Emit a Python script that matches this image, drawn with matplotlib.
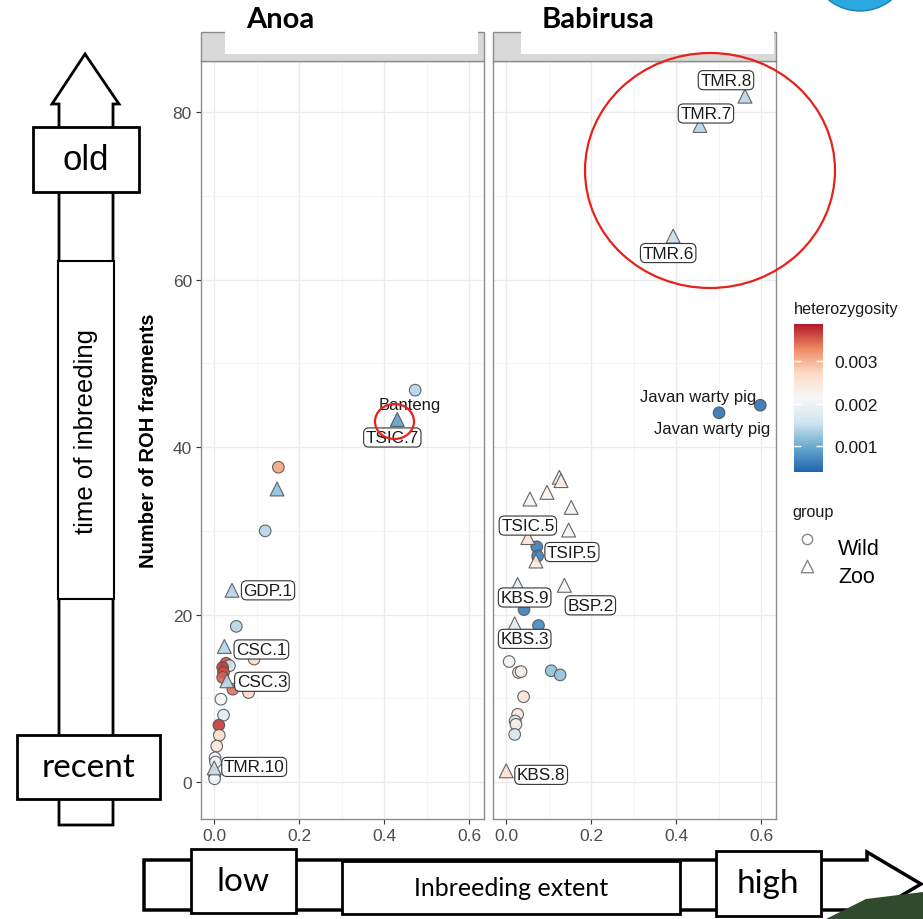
import numpy as np
import matplotlib.pyplot as plt
from matplotlib.colors import LinearSegmentedColormap, Normalize
from matplotlib.cm import ScalarMappable
from matplotlib.patches import Rectangle, Polygon, Ellipse, Circle

plt.rcParams['font.family'] = ['Liberation Sans', 'DejaVu Sans']

# ---- data ----
anoa_x = [0.473, 0.431, 0.151, 0.148, 0.120, 0.042, 0.052, 0.024, 0.094, 0.028,
          0.036, 0.020, 0.022, 0.020, 0.030, 0.044, 0.081, 0.016, 0.022, 0.011,
          0.012, 0.006, 0.002, 0.003, 0.000, 0.001, 0.001]
anoa_y = [46.8, 43.3, 37.6, 35.0, 30.0, 22.9, 18.6, 16.2, 14.7, 14.2,
          13.9, 13.7, 13.1, 12.5, 12.1, 11.1, 10.7, 9.9, 8.0, 6.8,
          5.6, 4.3, 2.9, 2.4, 1.7, 0.8, 0.4]
anoa_het = [0.0014, 0.0009, 0.0031, 0.0012, 0.0014, 0.0014, 0.0014, 0.0014, 0.0027, 0.0036,
            0.0016, 0.0037, 0.0036, 0.0035, 0.0014, 0.0034, 0.0027, 0.0021, 0.0018, 0.0037,
            0.0027, 0.0025, 0.0021, 0.0021, 0.0015, 0.0023, 0.0021]
anoa_group = ['Wild', 'Zoo', 'Wild', 'Zoo', 'Wild', 'Zoo', 'Wild', 'Zoo', 'Wild', 'Wild',
              'Wild', 'Wild', 'Wild', 'Wild', 'Zoo', 'Wild', 'Wild', 'Wild', 'Wild', 'Wild',
              'Wild', 'Wild', 'Wild', 'Wild', 'Zoo', 'Wild', 'Wild']
anoa_labels = {0: 'Banteng', 1: 'TSIC.7', 5: 'GDP.1', 7: 'CSC.1', 14: 'CSC.3', 24: 'TMR.10'}

babi_x = [0.562, 0.456, 0.393, 0.501, 0.598, 0.125, 0.129, 0.096, 0.056, 0.153,
          0.147, 0.051, 0.072, 0.074, 0.070, 0.027, 0.137, 0.042, 0.020, 0.076,
          0.007, 0.029, 0.035, 0.106, 0.127, 0.041, 0.027, 0.021, 0.023, 0.020, 0.000]
babi_y = [81.9, 78.4, 65.2, 44.1, 45.0, 36.4, 36.0, 34.6, 33.8, 32.8,
          30.1, 29.2, 28.1, 27.0, 26.4, 23.6, 23.5, 20.6, 18.9, 18.7,
          14.4, 13.1, 13.2, 13.3, 12.8, 10.2, 8.1, 7.3, 6.9, 5.7, 1.35]
babi_het = [0.0014, 0.0014, 0.0015, 0.0005, 0.0005, 0.0024, 0.0023, 0.0022, 0.0022, 0.0022,
            0.0021, 0.0025, 0.0006, 0.0006, 0.0024, 0.0018, 0.0021, 0.0006, 0.0018, 0.0007,
            0.0020, 0.0021, 0.0023, 0.0012, 0.0012, 0.0025, 0.0024, 0.0017, 0.0023, 0.0016, 0.0026]
babi_group = ['Zoo', 'Zoo', 'Zoo', 'Wild', 'Wild', 'Zoo', 'Zoo', 'Zoo', 'Zoo', 'Zoo',
              'Zoo', 'Zoo', 'Wild', 'Wild', 'Zoo', 'Zoo', 'Zoo', 'Wild', 'Zoo', 'Wild',
              'Wild', 'Wild', 'Wild', 'Wild', 'Wild', 'Wild', 'Wild', 'Wild', 'Wild', 'Wild', 'Zoo']
babi_labels = {0: 'TMR.8', 1: 'TMR.7', 2: 'TMR.6', 3: 'Javan warty pig', 4: 'Javan warty pig',
               11: 'TSIC.5', 14: 'TSIP.5', 15: 'KBS.9', 16: 'BSP.2', 18: 'KBS.3', 30: 'KBS.8'}

het_ticks = [0.001, 0.002, 0.003]
het_lim = (0.00039, 0.00387)

# ---- layout (pixels) ----
W, H = 923, 920
anoa_offsets = {0: (-5, -14), 1: (-5, -18), 5: (36, 0), 7: (37, -3), 14: (35, -1), 24: (40, 1)}
babi_offsets = {0: (-19, 16), 1: (6, 12), 2: (-5, -17), 3: (-7, -16), 4: (-62, 9),
                11: (0, 12), 14: (36, 9), 15: (7, -13), 16: (26, -20), 18: (10, -15), 30: (35, -4)}

cmap = LinearSegmentedColormap.from_list(
    'rdbu', ['#2166AC', '#67A9CF', '#D1E5F0', '#F7F7F7', '#FDDBC7', '#EF8A62', '#B2182B'])
norm = Normalize(*het_lim)


def frac(x0, y0, x1, y1):
    return [x0 / W, 1 - y1 / H, (x1 - x0) / W, (y1 - y0) / H]


fig = plt.figure(figsize=(W / 100, H / 100), dpi=100)


def panel(rect, xs, ys, het, group, labels, offsets, show_y):
    ax = fig.add_axes(frac(*rect))
    ax.set_xlim(-0.031, 0.635)
    ax.set_ylim(-4.4, 86.1)
    ax.set_xticks([0, 0.2, 0.4, 0.6])
    ax.set_xticklabels(['0.0', '0.2', '0.4', '0.6'])
    ax.set_xticks([0.1, 0.3, 0.5], minor=True)
    ax.set_yticks([0, 20, 40, 60, 80])
    ax.set_yticks([10, 30, 50, 70], minor=True)
    ax.grid(which='major', color='#EBEBEB', lw=1.0)
    ax.grid(which='minor', color='#F4F4F4', lw=0.6)
    ax.set_axisbelow(True)
    for s in ax.spines.values():
        s.set_color('#8C8C8C')
        s.set_linewidth(1.0)
    ax.tick_params(which='major', length=3.5, color='#333333', labelcolor='#4D4D4D',
                   labelsize=12.5, pad=3)
    ax.tick_params(which='minor', length=0)
    if not show_y:
        ax.tick_params(axis='y', left=False, labelleft=False)

    xs, ys, het = np.array(xs), np.array(ys), np.array(het)
    for g, mk, sz in [('Wild', 'o', 70), ('Zoo', '^', 100)]:
        m = np.array([gg == g for gg in group])
        ax.scatter(xs[m], ys[m], c=het[m], cmap=cmap, norm=norm, marker=mk, s=sz,
                   edgecolors='#555555', linewidths=0.8, alpha=0.9, zorder=3)

    for i, txt in labels.items():
        dx, dy = offsets[i]
        if group[i] == 'Zoo':
            ax.annotate(txt, (xs[i], ys[i]), xytext=(dx, dy), textcoords='offset pixels',
                        ha='center', va='center', fontsize=12.3, color='#1A1A1A', zorder=5,
                        bbox=dict(boxstyle='round,pad=0.12,rounding_size=0.3', fc='white',
                                  ec='#333333', lw=0.8))
        else:
            ax.annotate(txt, (xs[i], ys[i]), xytext=(dx, dy), textcoords='offset pixels',
                        ha='center', va='center', fontsize=12, color='#1A1A1A', zorder=5)
    return ax


ax1 = panel((201, 62, 484, 820), anoa_x, anoa_y, anoa_het, anoa_group,
            anoa_labels, anoa_offsets, True)
ax2 = panel((493, 62, 776, 820), babi_x, babi_y, babi_het, babi_group,
            babi_labels, babi_offsets, False)
fig.text(148 / W, 1 - 441 / H, 'Number of ROH fragments', rotation=90, ha='center',
         va='center', fontsize=14.5, fontweight='bold', color='black')

# colour bar legend
cax = fig.add_axes(frac(794, 325, 823, 473))
cb = fig.colorbar(ScalarMappable(norm=norm, cmap=cmap), cax=cax, ticks=het_ticks)
cb.outline.set_visible(False)
cb.ax.set_yticklabels([f'{t:.3f}' for t in het_ticks])
cax.tick_params(length=5, width=1, color='white', direction='in', labelsize=12.5,
                left=True, right=True, pad=8, labelcolor='#1A1A1A')

# ---- overlay: slide decoration ----
ov = fig.add_axes([0, 0, 1, 1], facecolor='none', zorder=10)
ov.set_xlim(0, W)
ov.set_ylim(H, 0)
ov.axis('off')

for x0, x1, wx0, wx1 in [(201, 484, 225, 478), (493, 776, 521, 774)]:
    ov.add_patch(Rectangle((x0, 33), x1 - x0, 29, fc='#D9D9D9', ec='#8C8C8C', lw=1))
    ov.add_patch(Rectangle((wx0, 0), wx1 - wx0, 55, fc='white', ec='none'))
ov.text(280, 20, 'Anoa', ha='center', va='center', fontsize=21, fontweight='bold', family='Lato')
ov.text(598, 20, 'Babirusa', ha='center', va='center', fontsize=21, fontweight='bold', family='Lato')

# legend labels
ov.text(794, 310, 'heterozygosity', ha='left', va='center', fontsize=11.7, color='#1A1A1A')
ov.text(792, 513, 'group', ha='left', va='center', fontsize=11.7, color='#1A1A1A')
ov.add_patch(Rectangle((785, 517), 100, 12, fc='white', ec='none'))
ov.scatter([807], [540], marker='o', s=55, fc='white', ec='#888888', lw=1)
ov.scatter([807], [567], marker='^', s=80, fc='white', ec='#888888', lw=1)
ov.text(838, 550, 'Wild', ha='left', va='center', fontsize=15.5)
ov.text(838, 578, 'Zoo', ha='left', va='center', fontsize=15.5)

# red highlight ellipses
ov.add_patch(Ellipse((394.5, 422.5), 39, 35, fill=False, ec='#E8221B', lw=1.6))
ov.add_patch(Ellipse((710, 171.5), 250, 235, fill=False, ec='#E8221B', lw=1.6))

# vertical arrow (time of inbreeding)
ov.add_patch(Polygon([(59, 826), (59, 105), (52, 105), (85, 55), (119, 105), (113, 105), (113, 826)],
                     closed=True, fc='white', ec='black', lw=2))
ov.add_patch(Rectangle((33, 128), 106, 65, fc='white', ec='black', lw=2))
ov.add_patch(Rectangle((58, 262), 56, 338, fc='white', ec='black', lw=1.5))
ov.add_patch(Rectangle((17, 736), 143, 64, fc='white', ec='black', lw=2))
ov.text(86, 161, 'old', ha='center', va='center', fontsize=25)
ov.text(86, 431, 'time of inbreeding', ha='center', va='center', rotation=90, fontsize=18.5)
ov.text(88, 768, 'recent', ha='center', va='center', fontsize=24, family='Lato')

# horizontal arrow (inbreeding extent)
ov.add_patch(Polygon([(144, 861), (867, 861), (867, 853), (921, 885), (867, 917), (867, 911), (144, 911)],
                     closed=True, fc='white', ec='black', lw=2.5))
ov.add_patch(Rectangle((191, 850), 105, 64, fc='white', ec='black', lw=2))
ov.add_patch(Rectangle((342, 862), 338, 53, fc='white', ec='black', lw=2))
ov.add_patch(Rectangle((716, 852), 105, 65, fc='white', ec='black', lw=2))
ov.text(243, 882, 'low', ha='center', va='center', fontsize=24, family='Lato')
ov.text(511, 889, 'Inbreeding extent', ha='center', va='center', fontsize=18, family='Lato')
ov.text(768, 884, 'high', ha='center', va='center', fontsize=24, family='Lato')

# slide fragments at the corners
ov.add_patch(Circle((860, -38), 50, fc='#29A9E0', ec='#1C7FB0', lw=1))
ov.add_patch(Polygon([(826, 920), (866, 900), (923, 893), (923, 920)], closed=True,
                     fc='#2F4A2C', ec='none'))

fig.savefig('out.png', dpi=100)
